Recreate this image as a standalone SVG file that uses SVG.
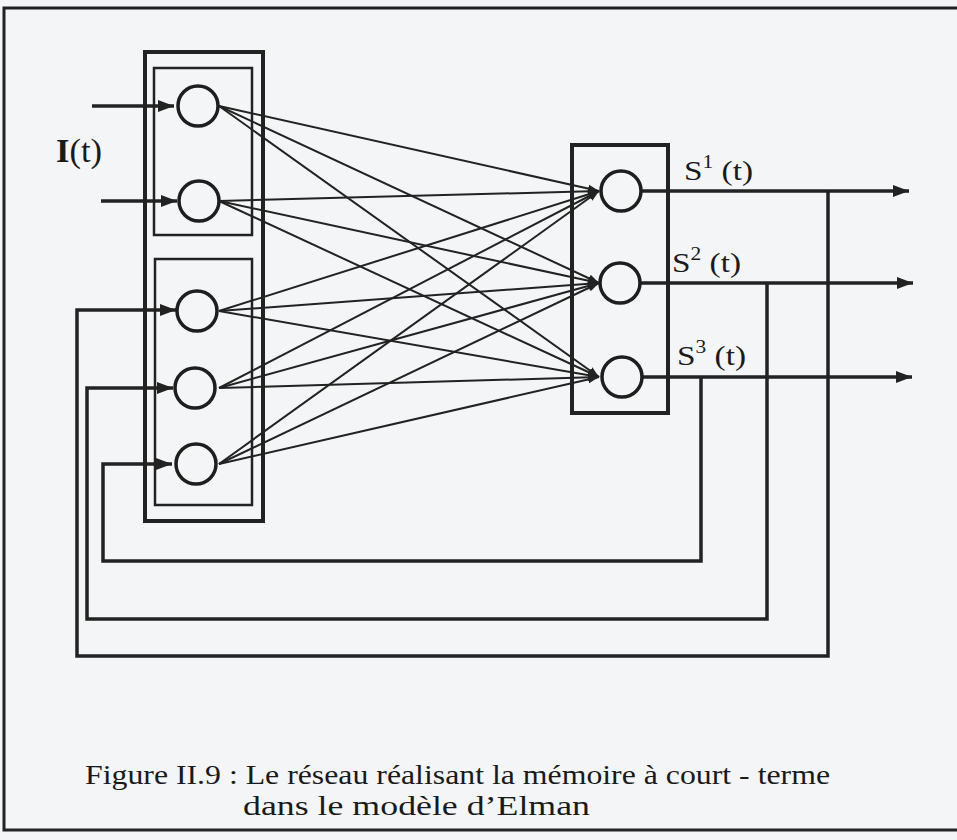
<svg xmlns="http://www.w3.org/2000/svg" width="957" height="840" viewBox="0 0 957 840">
<style>
.bg{fill:#f4f5f7}
.frame{fill:none;stroke:#222;stroke-width:3}
.box{fill:none;stroke:#222;stroke-width:4}
.ibox{fill:none;stroke:#222;stroke-width:2.5}
.neuron{fill:none;stroke:#1e1e1e;stroke-width:3.5}
.link{fill:none;stroke:#222;stroke-width:2;marker-end:url(#small)}
.arr{fill:none;stroke:#222;stroke-width:3.5;marker-end:url(#big)}
.lbl{font-size:28px;fill:#1a1a1a}
.big{font-size:33px}
.sup{font-size:18px}
.cap{font-size:28px;fill:#1a1a1a}
</style>
<defs>
<marker id="big" markerUnits="userSpaceOnUse" markerWidth="18" markerHeight="14" refX="16" refY="7" orient="auto">
<path d="M0,1 L16,7 L0,13 Z" fill="#222"/>
</marker>
<marker id="small" markerUnits="userSpaceOnUse" markerWidth="12" markerHeight="10" refX="11" refY="5" orient="auto">
<path d="M0,1 L11,5 L0,9 Z" fill="#222"/>
</marker>
</defs>
<rect class="bg" x="0" y="0" width="957" height="840"/>
<rect class="frame" x="4" y="8" width="960" height="822"/>

<g id="connectors">
<line class="link" x1="219" y1="106" x2="599" y2="191"/>
<line class="link" x1="219" y1="106" x2="599" y2="283"/>
<line class="link" x1="219" y1="106" x2="599" y2="377"/>
<line class="link" x1="219" y1="201" x2="599" y2="191"/>
<line class="link" x1="219" y1="201" x2="599" y2="283"/>
<line class="link" x1="219" y1="201" x2="599" y2="377"/>
<line class="link" x1="219" y1="311" x2="599" y2="191"/>
<line class="link" x1="219" y1="311" x2="599" y2="283"/>
<line class="link" x1="219" y1="311" x2="599" y2="377"/>
<line class="link" x1="219" y1="388" x2="599" y2="191"/>
<line class="link" x1="219" y1="388" x2="599" y2="283"/>
<line class="link" x1="219" y1="388" x2="599" y2="377"/>
<line class="link" x1="219" y1="464" x2="599" y2="191"/>
<line class="link" x1="219" y1="464" x2="599" y2="283"/>
<line class="link" x1="219" y1="464" x2="599" y2="377"/>
<line class="arr" x1="92" y1="106" x2="174" y2="106"/>
<line class="arr" x1="101" y1="201" x2="177" y2="201"/>
<line class="arr" x1="642" y1="191" x2="909" y2="191"/>
<line class="arr" x1="641" y1="283" x2="913" y2="283"/>
<line class="arr" x1="643" y1="377" x2="912" y2="377"/>
<polyline class="arr" points="828,191 828,656 77,656 77,310 176,310"/>
<polyline class="arr" points="767,283 767,619 87,619 87,388 173,388"/>
<polyline class="arr" points="701,377 701,561 103,561 103,464 172,464"/>
</g>

<g id="input-layer">
<rect class="box" x="145" y="52" width="118" height="469"/>
<rect class="ibox" x="154" y="68" width="98" height="167"/>
<rect class="ibox" x="155" y="259" width="97" height="246"/>
</g>
<g id="n-in1"><circle class="neuron" cx="198" cy="106" r="20"/></g>
<g id="n-in2"><circle class="neuron" cx="199" cy="201" r="20"/></g>
<g id="n-ctx1"><circle class="neuron" cx="197" cy="311" r="20"/></g>
<g id="n-ctx2"><circle class="neuron" cx="195" cy="388" r="20"/></g>
<g id="n-ctx3"><circle class="neuron" cx="196" cy="464" r="20"/></g>

<g id="output-layer">
<rect class="box" x="572" y="145" width="96" height="268"/>
</g>
<g id="n-out1"><circle class="neuron" cx="621" cy="191" r="20"/></g>
<g id="n-out2"><circle class="neuron" cx="620" cy="283" r="20"/></g>
<g id="n-out3"><circle class="neuron" cx="622" cy="377" r="20"/></g>

<g id="labels" font-family="'Liberation Serif', 'Times New Roman', Tinos, serif">
<text class="lbl big" x="56" y="162" textLength="46" lengthAdjust="spacingAndGlyphs"><tspan font-weight="bold">I</tspan>(t)</text>
<text class="lbl" x="684" y="180" textLength="69" lengthAdjust="spacingAndGlyphs">S<tspan class="sup" dy="-12">1</tspan><tspan dy="12"> (t)</tspan></text>
<text class="lbl" x="672" y="272" textLength="69" lengthAdjust="spacingAndGlyphs">S<tspan class="sup" dy="-12">2</tspan><tspan dy="12"> (t)</tspan></text>
<text class="lbl" x="677" y="365" textLength="69" lengthAdjust="spacingAndGlyphs">S<tspan class="sup" dy="-12">3</tspan><tspan dy="12"> (t)</tspan></text>
</g>

<g id="caption" font-family="'Liberation Serif', 'Times New Roman', Tinos, serif">
<text class="cap" x="85" y="784" textLength="745" lengthAdjust="spacingAndGlyphs">Figure II.9 : Le réseau réalisant la mémoire à court - terme</text>
<text class="cap" x="243" y="815" textLength="347" lengthAdjust="spacingAndGlyphs">dans le modèle d’Elman</text>
</g>
</svg>
